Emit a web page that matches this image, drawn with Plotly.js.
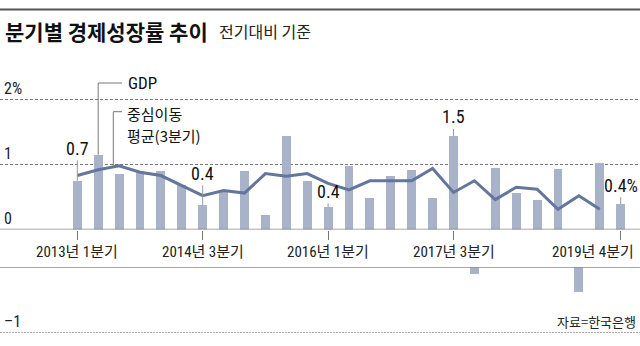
<!DOCTYPE html>
<html><head><meta charset="utf-8">
<script src="https://cdn.plot.ly/plotly-3.0.1.min.js"></script>
<style>html,body{margin:0;padding:0;background:#fff;}#chart{width:640px;height:346px;}</style>
</head><body><div id="chart"></div>
<script>
// ---- data ----
const quarters = ["2013Q1","2013Q2","2013Q3","2013Q4","2014Q1","2014Q2","2014Q3","2014Q4",
  "2015Q1","2015Q2","2015Q3","2015Q4","2016Q1","2016Q2","2016Q3","2016Q4",
  "2017Q1","2017Q2","2017Q3","2017Q4","2018Q1","2018Q2","2018Q3","2018Q4",
  "2019Q1","2019Q2","2019Q3"];
const gdp = [0.75,1.15,0.86,0.9,0.9,0.68,0.37,0.58,0.9,0.22,1.44,0.74,0.34,0.97,0.48,0.82,
  0.91,0.48,1.44,-0.11,0.94,0.56,0.46,0.93,-0.38,1.03,0.39];
const movingAvg = [0.83,0.92,0.98,0.88,0.83,0.67,0.52,0.6,0.56,0.86,0.82,0.86,0.71,0.61,
  0.75,0.75,0.75,0.94,0.57,0.75,0.46,0.65,0.62,0.31,0.52,0.31,null];
const tickIndex = [0,6,12,18,26];
const tickLabels = ["2013년 1분기","2014년 3분기","2016년 1분기","2017년 3분기","2019년 4분기"];
const valueLabelIndex = [0,6,12,18,26];
const valueLabels = ["0.7","0.4","0.4","1.5","0.4%"];
const yTickVals = [2,1,0,-1];
const yTickLabels = ["2%","1","0","–1"];

// ---- geometry ----
const W=640,H=346, zeroTopPx=229.5, zeroBotPx=267, unit=65, firstPx=77.3, spacing=20.9;
const xIdx = quarters.map((q,i)=>i);
const pxToX = px => (px-firstPx)/spacing;
const pxToY = px => (zeroTopPx-px)/unit;
const FN = '"Liberation Sans Narrow","Roboto Condensed","Liberation Sans","Noto Sans CJK KR",sans-serif';
const FK = '"Noto Sans CJK KR",sans-serif';
const barColor = '#a8b3c9', lineColor = '#64769d';

const barTop = {type:'bar', x:xIdx, y:gdp, width:0.43, marker:{color:barColor}, xaxis:'x', yaxis:'y', hoverinfo:'skip'};
const barBot = {type:'bar', x:xIdx, y:gdp, width:0.43, marker:{color:barColor}, xaxis:'x2', yaxis:'y2', hoverinfo:'skip'};
const line = {type:'scatter', mode:'lines', x:xIdx, y:movingAvg, line:{color:lineColor,width:3}, xaxis:'x', yaxis:'y', hoverinfo:'skip'};

const annotations = [];
// title
annotations.push({xref:'paper',yref:'paper',x:3/W,y:1-31/H,xanchor:'left',yanchor:'middle',showarrow:false,
  text:'<b>분기별 경제성장률 추이</b>',font:{family:FK,size:21,color:'#111'}});
annotations.push({xref:'paper',yref:'paper',x:217/W,y:1-31/H,xanchor:'left',yanchor:'middle',showarrow:false,
  text:'전기대비 기준',font:{family:FK,size:16,color:'#222'}});
// source
annotations.push({xref:'paper',yref:'paper',x:638/W,y:1-321/H,xanchor:'right',yanchor:'middle',showarrow:false,
  text:'자료=한국은행',font:{family:FK,size:13,color:'#222'}});
// y tick labels
yTickVals.forEach((v,i)=>{
  annotations.push({xref:'paper',yref:v<0?'y2':'y',x:2/W,y:v,xanchor:'left',yanchor:'middle',yshift:11,showarrow:false,
    text:yTickLabels[i],font:{family:FN,size:16,color:'#222'}});
});
// x tick labels
tickIndex.forEach((k,i)=>{
  const last = i===tickIndex.length-1;
  annotations.push({xref:last?'paper':'x',yref:'paper',x:last?636/W:k,y:1-251.5/H,xanchor:last?'right':'center',yanchor:'middle',showarrow:false,
    text:tickLabels[i],font:{family:FN,size:15,color:'#222'}});
});
// value labels with leaders
const labelRise = [32.5,32,16,19,19];
valueLabelIndex.forEach((k,i)=>{
  annotations.push({xref:'x',yref:'y',x:k,y:gdp[k],ax:0,ay:-labelRise[i],showarrow:true,arrowhead:0,arrowwidth:1,
    arrowcolor:'#999',standoff:0,text:valueLabels[i],font:{family:FN,size:18,color:'#111'}});
});
// legend labels
annotations.push({xref:'x',yref:'y',x:pxToX(126),y:pxToY(83),xanchor:'left',yanchor:'middle',showarrow:false,
  text:'GDP',font:{family:FN,size:17,color:'#111'}});
annotations.push({xref:'x',yref:'y',x:pxToX(126),y:pxToY(113),xanchor:'left',yanchor:'middle',showarrow:false,
  borderpad:0,text:'중심이동',font:{family:FK,size:15,color:'#111'}});
annotations.push({xref:'x',yref:'y',x:pxToX(126),y:pxToY(135),xanchor:'left',yanchor:'middle',showarrow:false,
  borderpad:0,text:'평균(3분기)',font:{family:FK,size:15,color:'#111'}});

// legend leader for moving average: interpolated point on the line
const maX = pxToX(113.3), i0 = Math.floor(maX), f = maX-i0;
const maY = movingAvg[i0]*(1-f)+movingAvg[i0+1]*f;
const lead = {color:'#777',width:1};
const shapes = [
  {type:'line',xref:'paper',yref:'paper',x0:0,x1:1,y0:1-9.5/H,y1:1-9.5/H,line:{color:'#555',width:2}},
  {type:'line',xref:'paper',yref:'y',x0:0,x1:1,y0:0,y1:0,line:{color:'#8a8a8a',width:1.3}},
  {type:'line',xref:'paper',yref:'y2',x0:0,x1:1,y0:0,y1:0,line:{color:'#8a8a8a',width:1.3}},
  {type:'line',xref:'x',yref:'y',x0:1,x1:1,y0:gdp[1],y1:pxToY(83),line:lead},
  {type:'line',xref:'x',yref:'y',x0:1,x1:pxToX(122),y0:pxToY(83),y1:pxToY(83),line:lead},
  {type:'line',xref:'x',yref:'y',x0:maX,x1:maX,y0:maY,y1:pxToY(111.7),line:lead},
  {type:'line',xref:'x',yref:'y',x0:maX,x1:pxToX(122),y0:pxToY(111.7),y1:pxToY(111.7),line:lead}
];

const xr0 = -firstPx/spacing, xr1 = xr0 + W/spacing;
const layout = {
  width:W,height:H,margin:{l:0,r:0,t:0,b:0,pad:0},paper_bgcolor:'#fff',plot_bgcolor:'rgba(0,0,0,0)',
  showlegend:false,bargap:0,barmode:'overlay',
  xaxis:{domain:[0,1],range:[xr0,xr1],anchor:'y',showgrid:false,zeroline:false,showline:false,
    tickmode:'array',tickvals:tickIndex,ticks:'outside',ticklen:9,tickwidth:1,tickcolor:'#777',showticklabels:false},
  xaxis2:{domain:[0,1],range:[xr0,xr1],anchor:'y2',matches:'x',visible:false},
  yaxis:{domain:[(H-zeroTopPx)/H,1],range:[0,zeroTopPx/unit],showgrid:true,tickmode:'array',tickvals:[1,2],
    gridcolor:'#777',gridwidth:1,griddash:'3px,2px',zeroline:false,showticklabels:false,ticks:''},
  yaxis2:{domain:[0,(H-zeroBotPx)/H],range:[-(H-zeroBotPx)/unit,0],showgrid:true,tickmode:'array',tickvals:[-1],
    gridcolor:'#aaa',gridwidth:1,griddash:'2px,1px',zeroline:false,showticklabels:false,ticks:''},
  annotations:annotations,shapes:shapes
};
Plotly.newPlot('chart',[barTop,barBot,line],layout,{staticPlot:true,displayModeBar:false});
</script></body></html>
